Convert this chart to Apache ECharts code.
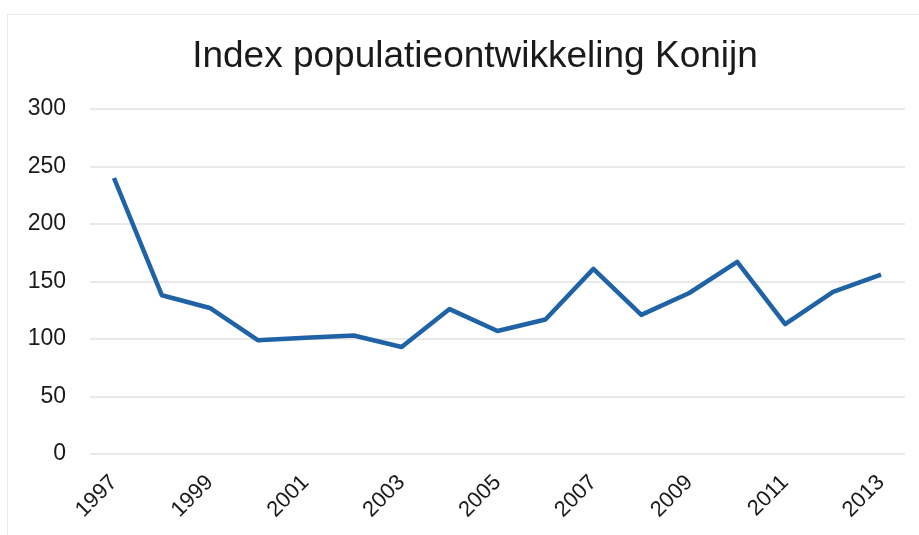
<!DOCTYPE html>
<html>
<head>
<meta charset="utf-8">
<script src="https://cdn.jsdelivr.net/npm/echarts@6/dist/echarts.min.js"></script>
<style>
  html, body { margin: 0; padding: 0; background: #fff; }
  #frame { position: absolute; left: 7px; top: 14px; width: 930px; height: 540px; border: 1px solid #e8e8e8; box-sizing: border-box; }
  #chart { position: absolute; left: 0; top: 0; width: 919px; height: 535px; }
</style>
</head>
<body>
<div id="frame"></div>
<div id="chart"></div>
<script>
// jaren en indexwaarden
const years = ["1997", "1998", "1999", "2000", "2001", "2002", "2003", "2004", "2005",
  "2006", "2007", "2008", "2009", "2010", "2011", "2012", "2013"];
const indexValues = [240, 138, 127, 99, 101, 103, 93, 126, 107,
  117, 161, 121, 140, 167, 113, 141, 156];

const mChart = echarts.init(document.getElementById("chart"));

const options = {
  animation: false,
  title: {
    text: "Index populatieontwikkeling Konijn",
    left: 470,
    textAlign: "center",
    top: 33,
    textStyle: {
      fontFamily: "Liberation Sans",
      fontWeight: "normal",
      fontSize: 37,
      color: "#1a1a1a",
    },
  },
  grid: {
    left: 90,
    right: 14,
    top: 109,
    bottom: 81,
    containLabel: false,
  },
  xAxis: {
    type: "category",
    data: years,
    boundaryGap: true,
    axisLine: { show: false },
    axisTick: { show: false },
    axisLabel: {
      interval: 1,
      rotate: 45,
      margin: 25,
      fontFamily: "Liberation Sans",
      fontSize: 22,
      color: "#1a1a1a",
    },
  },
  yAxis: {
    type: "value",
    min: 0,
    max: 300,
    interval: 50,
    axisLine: { show: false },
    axisTick: { show: false },
    axisLabel: {
      margin: 24,
      fontFamily: "Liberation Sans",
      fontSize: 23,
      color: "#1a1a1a",
    },
    splitLine: { lineStyle: { color: "#e2e2e2", width: 1.5 } },
  },
  series: [
    {
      type: "line",
      data: indexValues,
      symbol: "none",
      lineStyle: { color: "#1f63a6", width: 4.5, join: "round" },
    },
  ],
};
mChart.setOption(options);
</script>
</body>
</html>
